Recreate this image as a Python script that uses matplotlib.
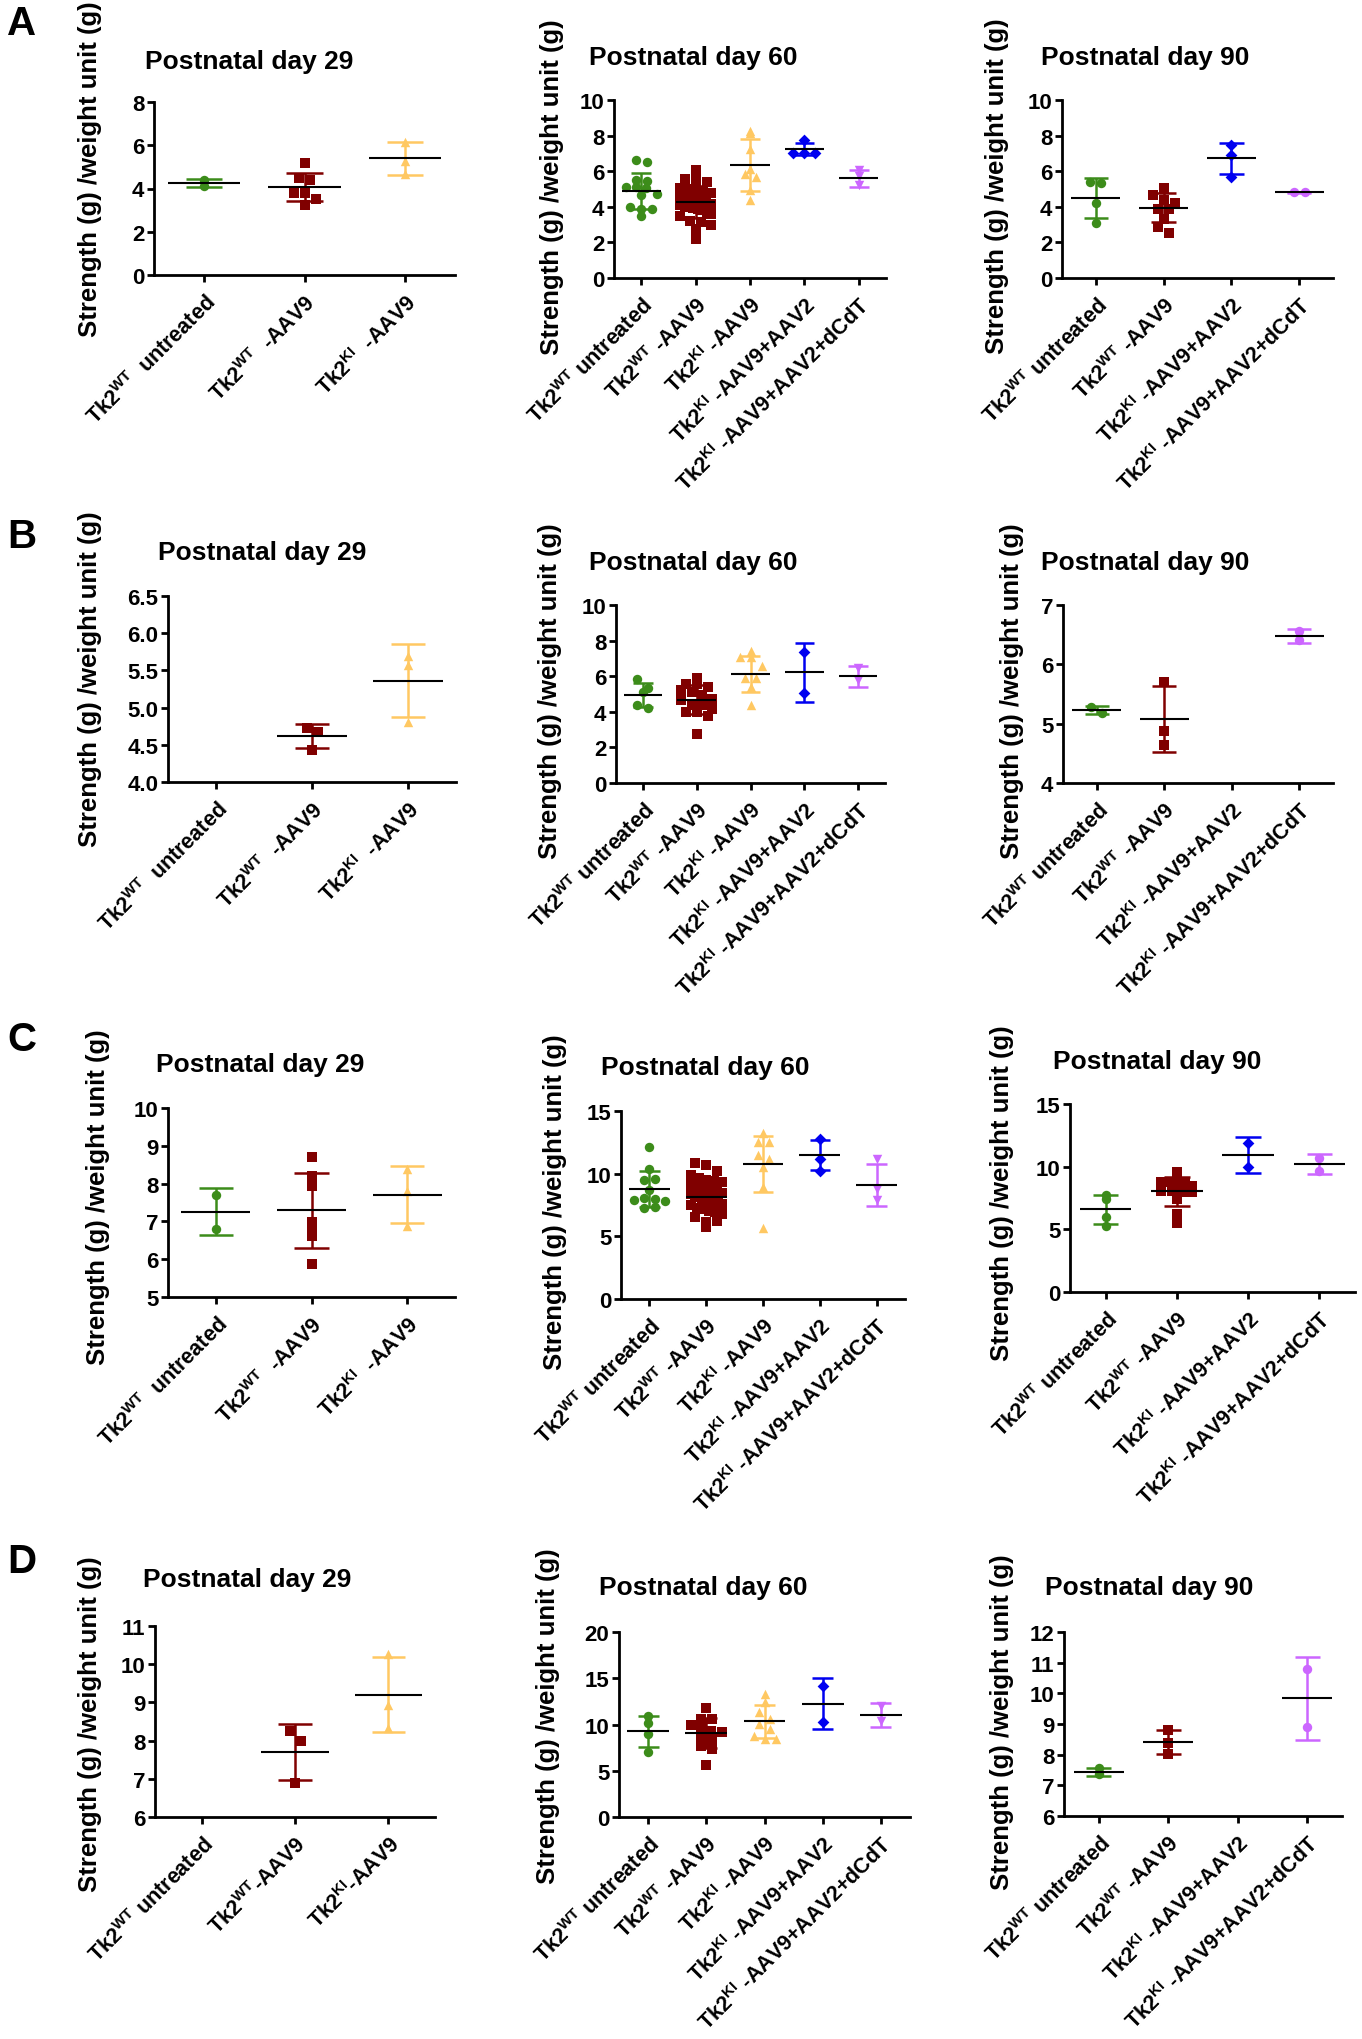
import matplotlib
matplotlib.use('Agg')
import matplotlib.pyplot as plt
from matplotlib.ticker import FormatStrFormatter
import numpy as np

plt.rcParams['font.family'] = ['Liberation Sans', 'DejaVu Sans']
plt.rcParams['font.weight'] = 'bold'
plt.rcParams['mathtext.fontset'] = 'custom'
plt.rcParams['mathtext.rm'] = 'Liberation Sans:bold'
plt.rcParams['mathtext.it'] = 'Liberation Sans:bold'
plt.rcParams['mathtext.bf'] = 'Liberation Sans:bold'
plt.rcParams['mathtext.default'] = 'rm'

W, H = 1362, 2040

# ---- categories ----
cats_29 = [r'Tk2$^{WT}$  untreated', r'Tk2$^{WT}$  -AAV9', r'Tk2$^{KI}$  -AAV9']
cats_29d = [r'Tk2$^{WT}$ untreated', r'Tk2$^{WT}$-AAV9', r'Tk2$^{KI}$-AAV9']
cats_60 = [r'Tk2$^{WT}$ untreated', r'Tk2$^{WT}$ -AAV9', r'Tk2$^{KI}$ -AAV9',
           r'Tk2$^{KI}$ -AAV9+AAV2', r'Tk2$^{KI}$ -AAV9+AAV2+dCdT']
cats_90 = [cats_60[0], cats_60[1], cats_60[3], cats_60[4]]

green, dred, orange, blue, purple = '#3C8C1A', '#800000', '#FFC862', '#0000F0', '#CC66FF'
colors_29 = [green, dred, orange]
colors_60 = [green, dred, orange, blue, purple]
colors_90 = [green, dred, blue, purple]
markers_29 = ['o', 's', '^']
markers_60 = ['o', 's', '^', 'D', 'v']
markers_90 = ['o', 's', 'D', 'o']

# ---- row A ----
a29_vals = [[4.13, 4.39], [5.17, 4.49, 4.37, 3.80, 3.78, 3.52, 3.26], [6.15, 5.25, 4.65]]
a29_mean = [4.26, 4.06, 5.39]
a29_sd = [0.18, 0.65, 0.78]
a29_yticks = [0, 2, 4, 6, 8]

a60_vals = [[6.64, 6.50, 5.48, 5.44, 5.10, 5.10, 5.05, 4.73, 4.64, 3.98, 3.89, 3.89, 3.51],
            [6.09, 5.55, 5.53, 5.38, 5.05, 5.01, 4.92, 4.82, 4.75, 4.64, 4.55, 4.50, 4.45, 4.30, 4.20,
             4.17, 4.10, 4.07, 4.00, 3.95, 3.89, 3.80, 3.70, 3.61, 3.50, 3.23, 3.15, 2.95, 2.77, 2.17],
            [8.26, 8.13, 7.25, 6.13, 5.85, 5.66, 4.92, 4.36],
            [7.76, 7.03, 7.03, 7.03],
            [6.09, 5.72, 5.20]]
a60_mean = [4.88, 4.26, 6.34, 7.25, 5.61]
a60_sd = [1.0, 0.9, 1.45, 0.34, 0.47]
a60_yticks = [0, 2, 4, 6, 8, 10]

a90_vals = [[5.42, 5.33, 4.22, 3.08], [5.05, 4.64, 4.36, 4.19, 3.89, 3.89, 3.33, 2.86, 2.54],
            [7.50, 6.93, 5.70], [4.82, 4.82]]
a90_mean = [4.49, 3.94, 6.73, 4.82]
a90_sd = [1.1, 0.82, 0.88, 0.02]
a90_yticks = [0, 2, 4, 6, 8, 10]

# ---- row B ----
b29_vals = [[], [4.72, 4.67, 4.43], [5.70, 5.57, 4.80]]
b29_mean = [None, 4.62, 5.36]
b29_sd = [None, 0.16, 0.49]
b29_yticks = [4.0, 4.5, 5.0, 5.5, 6.0, 6.5]

b60_vals = [[5.85, 5.35, 5.10, 4.41, 4.22],
            [5.91, 5.57, 5.57, 5.38, 5.20, 5.10, 4.92, 4.73, 4.64, 4.36, 4.36, 4.17, 3.98, 3.98, 3.76, 2.77],
            [7.44, 7.07, 7.07, 6.60, 5.90, 5.90, 5.38, 4.36],
            [7.38, 5.05], [6.45, 5.76]]
b60_mean = [4.95, 4.69, 6.13, 6.22, 6.0]
b60_sd = [0.67, 0.8, 1.03, 1.65, 0.6]
b60_yticks = [0, 2, 4, 6, 8, 10]

b90_vals = [[5.28, 5.18], [5.71, 4.87, 4.64], [], [6.57, 6.41]]
b90_mean = [5.23, 5.08, None, 6.48]
b90_sd = [0.07, 0.56, None, 0.12]
b90_yticks = [4, 5, 6, 7]

# ---- row C ----
c29_vals = [[7.69, 6.81], [8.70, 8.21, 7.94, 6.99, 6.75, 6.62, 5.86], [8.38, 7.81, 6.88]]
c29_mean = [7.26, 7.29, 7.71]
c29_sd = [0.62, 1.0, 0.75]
c29_yticks = [5, 6, 7, 8, 9, 10]

c60_vals = [[12.12, 10.34, 9.46, 9.54, 8.66, 7.91, 8.07, 7.99, 7.78, 7.25, 7.33],
            [10.84, 10.66, 10.21, 9.86, 9.62, 9.50, 9.41, 9.30, 9.15, 9.02, 8.95, 8.80, 8.71, 8.60,
             8.55, 8.42, 8.35, 8.20, 8.12, 8.05, 7.93, 7.85, 7.80, 7.66, 7.55, 7.48, 7.30, 7.22,
             7.05, 6.95, 6.82, 6.55, 6.18, 6.20, 5.73],
            [13.24, 12.52, 12.52, 11.46, 11.14, 10.52, 8.93, 5.65],
            [12.74, 11.19, 10.21], [11.14, 8.79, 7.86]]
c60_mean = [8.79, 8.13, 10.79, 11.46, 9.11]
c60_sd = [1.45, 1.2, 2.24, 1.19, 1.7]
c60_yticks = [0, 5, 10, 15]

c90_vals = [[7.73, 7.46, 6.02, 5.27],
            [9.54, 8.74, 8.74, 8.74, 8.74, 8.47, 8.07, 8.07, 7.94, 7.94, 7.41, 6.21, 5.54],
            [11.88, 9.94], [10.68, 9.67]]
c90_mean = [6.61, 8.02, 10.95, 10.23]
c90_sd = [1.15, 1.17, 1.42, 0.78]
c90_yticks = [0, 5, 10, 15]

# ---- row D ----
d29_vals = [[], [8.24, 8.00, 6.88], [10.27, 8.92, 8.33]]
d29_mean = [None, 7.71, 9.20]
d29_sd = [None, 0.73, 0.98]
d29_yticks = [6, 7, 8, 9, 10, 11]

d60_vals = [[10.96, 10.16, 8.97, 7.05],
            [11.79, 10.63, 10.63, 9.90, 9.73, 9.33, 9.15, 8.79, 8.43, 7.70, 7.34, 5.64],
            [13.31, 12.40, 11.32, 10.60, 10.06, 9.49, 8.79, 8.43, 8.43],
            [14.21, 10.31], [12.04, 10.34]]
d60_mean = [9.26, 9.04, 10.34, 12.22, 11.03]
d60_sd = [1.68, 1.63, 1.75, 2.76, 1.28]
d60_yticks = [0, 5, 10, 15, 20]

d90_vals = [[7.55, 7.36], [8.81, 8.37, 8.02], [], [10.80, 8.89]]
d90_mean = [7.45, 8.42, None, 9.84]
d90_sd = [0.13, 0.40, None, 1.35]
d90_yticks = [6, 7, 8, 9, 10, 11, 12]

# panel layout: axes box (left, right, top, bottom) in pixels, title and ylabel centres
panels = [
    dict(box=(154, 455, 103, 276), cats=cats_29, cols=colors_29, mk=markers_29, vals=a29_vals, mean=a29_mean, sd=a29_sd, yt=a29_yticks, title='Postnatal day 29', txy=(249, 62), lxy=(90, 169), letter=('A', 22, 24)),
    dict(box=(614, 886, 101, 279), cats=cats_60, cols=colors_60, mk=markers_60, vals=a60_vals, mean=a60_mean, sd=a60_sd, yt=a60_yticks, title='Postnatal day 60', txy=(693, 58), lxy=(552, 187)),
    dict(box=(1062, 1333, 101, 279), cats=cats_90, cols=colors_90, mk=markers_90, vals=a90_vals, mean=a90_mean, sd=a90_sd, yt=a90_yticks, title='Postnatal day 90', txy=(1145, 58), lxy=(997, 186)),
    dict(box=(168, 456, 597, 783), cats=cats_29, cols=colors_29, mk=markers_29, vals=b29_vals, mean=b29_mean, sd=b29_sd, yt=b29_yticks, title='Postnatal day 29', txy=(262, 553), lxy=(90, 679), letter=('B', 22, 537)),
    dict(box=(616, 885, 606, 784), cats=cats_60, cols=colors_60, mk=markers_60, vals=b60_vals, mean=b60_mean, sd=b60_sd, yt=b60_yticks, title='Postnatal day 60', txy=(693, 563), lxy=(550, 691)),
    dict(box=(1063, 1333, 606, 784), cats=cats_90, cols=colors_90, mk=markers_90, vals=b90_vals, mean=b90_mean, sd=b90_sd, yt=b90_yticks, title='Postnatal day 90', txy=(1145, 563), lxy=(1012, 691)),
    dict(box=(168, 455, 1109, 1298), cats=cats_29, cols=colors_29, mk=markers_29, vals=c29_vals, mean=c29_mean, sd=c29_sd, yt=c29_yticks, title='Postnatal day 29', txy=(260, 1065), lxy=(98, 1197), letter=('C', 22, 1040)),
    dict(box=(621, 905, 1112, 1300), cats=cats_60, cols=colors_60, mk=markers_60, vals=c60_vals, mean=c60_mean, sd=c60_sd, yt=c60_yticks, title='Postnatal day 60', txy=(705, 1068), lxy=(555, 1202)),
    dict(box=(1070, 1355, 1105, 1293), cats=cats_90, cols=colors_90, mk=markers_90, vals=c90_vals, mean=c90_mean, sd=c90_sd, yt=c90_yticks, title='Postnatal day 90', txy=(1157, 1062), lxy=(1002, 1193)),
    dict(box=(155, 435, 1627, 1818), cats=cats_29d, cols=colors_29, mk=markers_29, vals=d29_vals, mean=d29_mean, sd=d29_sd, yt=d29_yticks, title='Postnatal day 29', txy=(247, 1580), lxy=(90, 1724), letter=('D', 22, 1562)),
    dict(box=(619, 910, 1633, 1818), cats=cats_60, cols=colors_60, mk=markers_60, vals=d60_vals, mean=d60_mean, sd=d60_sd, yt=d60_yticks, title='Postnatal day 60', txy=(703, 1588), lxy=(548, 1716)),
    dict(box=(1064, 1342, 1633, 1817), cats=cats_90, cols=colors_90, mk=markers_90, vals=d90_vals, mean=d90_mean, sd=d90_sd, yt=d90_yticks, title='Postnatal day 90', txy=(1149, 1588), lxy=(1002, 1722)),
]


def fxy(x, y):
    return x / W, 1 - y / H


def swarm(vals, px_per_x, px_per_y):
    # simple GraphPad-like scatter: spread points that share a value bin,
    # dense bins are squeezed so the column stays about 3 markers wide
    vals = np.asarray(vals, dtype=float)
    step = 11.0 / px_per_x
    bin_h = 10.5 / px_per_y
    offs = np.zeros(len(vals))
    bins = np.floor(vals / bin_h).astype(int)
    for b in np.unique(bins):
        idx = np.where(bins == b)[0]
        n = len(idx)
        half = min((n - 1) / 2.0 * step, 1.4 * step)
        if n > 1:
            offs[idx] = np.linspace(-half, half, n)
    return offs


fig = plt.figure(figsize=(W / 100.0, H / 100.0), dpi=100)

for p in panels:
    l, r, t, b = p['box']
    ax = fig.add_axes([l / W, 1 - b / H, (r - l) / W, (b - t) / H])
    n = len(p['cats'])
    ymin, ymax = p['yt'][0], p['yt'][-1]
    ax.set_xlim(-0.5, n - 0.5)
    ax.set_ylim(ymin, ymax)
    px_x = (r - l) / float(n)
    px_y = (b - t) / float(ymax - ymin)

    for i in range(n):
        v = p['vals'][i]
        c = p['cols'][i]
        if len(v) > 0:
            offs = swarm(v, px_x, px_y)
            sz = 36 if p['mk'][i] == 'D' else 46
            ax.scatter(i + offs, v, marker=p['mk'][i], s=sz, color=c, linewidths=0,
                       zorder=3, clip_on=False)
        m, s = p['mean'][i], p['sd'][i]
        if m is None:
            continue
        ax.vlines(i, m - s, m + s, color=c, lw=1.8, zorder=4)
        ax.hlines([m - s, m + s], i - 0.18, i + 0.18, color=c, lw=1.8, zorder=4)
        ax.hlines(m, i - 0.36, i + 0.36, color='black', lw=1.5, zorder=5)

    for side in ['top', 'right']:
        ax.spines[side].set_visible(False)
    for side in ['left', 'bottom']:
        ax.spines[side].set_linewidth(2.0)
    ax.set_xticks(range(n))
    ax.set_xticklabels(p['cats'], rotation=45, ha='right', rotation_mode='anchor',
                       fontsize=15.5, fontweight='bold')
    ax.set_yticks(p['yt'])
    if isinstance(p['yt'][0], float):
        ax.yaxis.set_major_formatter(FormatStrFormatter('%.1f'))
    ax.tick_params(axis='both', direction='out', length=5, width=2.0, labelsize=16, pad=2)
    ax.tick_params(axis='x', labelsize=15.5, pad=6)
    for lab in ax.get_yticklabels():
        lab.set_fontweight('bold')

    tx, ty = fxy(*p['txy'])
    fig.text(tx, ty, p['title'], ha='center', va='center', fontsize=19, fontweight='bold')
    lx, ly = fxy(*p['lxy'])
    fig.text(lx, ly, 'Strength (g) /weight unit (g)', rotation=90, ha='center', va='center',
             fontsize=18.5, fontweight='bold')
    if 'letter' in p:
        letter, x0, y0 = p['letter']
        px0, py0 = fxy(x0, y0)
        fig.text(px0, py0, letter, ha='center', va='center', fontsize=29, fontweight='bold')

fig.savefig('out.png', dpi=100)
